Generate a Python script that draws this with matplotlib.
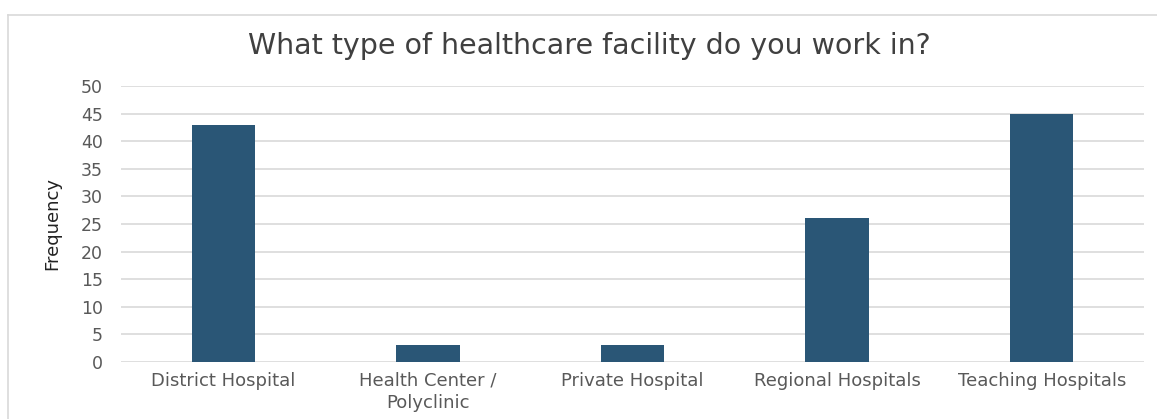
import matplotlib.pyplot as plt
from matplotlib.lines import Line2D

categories = ['District Hospital', 'Health Center /\nPolyclinic', 'Private Hospital',
              'Regional Hospitals', 'Teaching Hospitals']
frequency = [43, 3, 3, 26, 45]

plt.rcParams['font.family'] = ['DejaVu Sans']
txt = '#595959'
grid = '#d9d9d9'

fig = plt.figure(figsize=(11.57, 4.19), dpi=100)
ax = fig.add_axes([121 / 1157, 1 - 362 / 419, (1144 - 121) / 1157, (362 - 86) / 419])

x = range(len(categories))
ax.bar(x, frequency, width=0.31, color='#2a5676', zorder=3)

ax.set_xlim(-0.5, len(categories) - 0.5)
ax.set_ylim(0, 50)
ax.set_yticks(range(0, 51, 5))
ax.set_xticks(list(x))
ax.set_xticklabels(categories, fontsize=13, color=txt, linespacing=1.3)
ax.tick_params(axis='y', labelsize=12.5, labelcolor=txt, length=0, pad=13)
ax.tick_params(axis='x', length=0, pad=7)
ax.yaxis.grid(True, color=grid, lw=1.2, zorder=0)
for s in ax.spines.values():
    s.set_visible(False)

ax.set_ylabel('Frequency', fontsize=13, color='#222222',
              family='DejaVu Sans Condensed', labelpad=14)

fig.text(589 / 1157, 1 - 46 / 419, 'What type of healthcare facility do you work in?',
         ha='center', va='center', fontsize=20.5, color='#404040')

# chart border (cropped on the right and bottom)
fig.add_artist(Line2D([8 / 1157, 1], [1 - 15 / 419, 1 - 15 / 419],
                      transform=fig.transFigure, color=grid, lw=1.2))
fig.add_artist(Line2D([8 / 1157, 8 / 1157], [0, 1 - 15 / 419],
                      transform=fig.transFigure, color=grid, lw=1.2))

fig.savefig('out.png', dpi=100)
